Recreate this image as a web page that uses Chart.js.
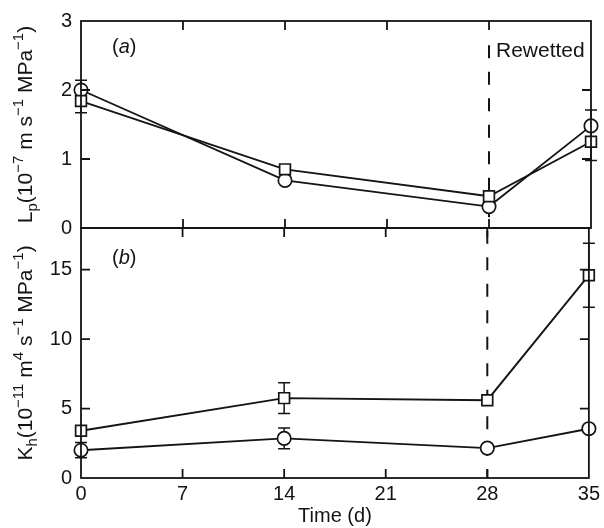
<!DOCTYPE html>
<html><head><meta charset="utf-8">
<script src="https://cdn.jsdelivr.net/npm/chart.js@4.4.1/dist/chart.umd.min.js"></script>
<style>
html,body{margin:0;padding:0;background:#fff;}
#wrap{position:relative;width:604px;height:528px;background:#fff;}
canvas{position:absolute;left:0;top:0;}
</style></head><body>
<div id="wrap"><canvas id="ca" width="604" height="528"></canvas><canvas id="cb" width="604" height="528"></canvas></div>
<script>
// ---- data ----
const days = [0, 14, 28, 35];
const xTicks = [0, 7, 14, 21, 28, 35];
const lpTicks = [0, 1, 2, 3];
const khTicks = [0, 5, 10, 15];
const lpCircle = [2.0, 0.69, 0.31, 1.48];
const lpCircleErr = [0.14, 0, 0, 0.23];
const lpSquare = [1.84, 0.85, 0.46, 1.25];
const lpSquareErr = [0.17, 0, 0, 0.27];
const khSquare = [3.4, 5.75, 5.6, 14.6];
const khSquareErr = [0, 1.1, 0, 2.3];
const khCircle = [2.0, 2.85, 2.15, 3.55];
const khCircleErr = [0.55, 0.75, 0, 0];
const rewetDay = 28;
const rewetTop = 2.65;
const rewetLabel = 'Rewetted';
const xTitle = 'Time (d)';
const lpTitle = [{t:'L'},{t:'p',k:'sub'},{t:'(10'},{t:'\u22127',k:'sup'},{t:' m s'},{t:'\u22121',k:'sup'},{t:' MPa'},{t:'\u22121',k:'sup'},{t:')'}];
const khTitle = [{t:'K'},{t:'h',k:'sub'},{t:'(10'},{t:'\u221211',k:'sup'},{t:' m'},{t:'4',k:'sup'},{t:' s'},{t:'\u22121',k:'sup'},{t:' MPa'},{t:'\u22121',k:'sup'},{t:')'}];

const FAM = '"Liberation Sans", Arial, Helvetica, sans-serif';
const INK = '#141414';
Chart.defaults.font.family = FAM;
Chart.defaults.color = INK;

let chartA = null;

function pts(ys){ return days.map((d,i)=>({x:d,y:ys[i]})); }
function ds(ys, errs, style, radius){
  return {data: pts(ys), errs: errs, borderColor: INK, borderWidth: 1.9, tension: 0,
    pointStyle: style, pointRadius: radius, pointBackgroundColor: '#fff',
    pointBorderColor: INK, pointBorderWidth: 1.7, clip: false, fill: false};
}

function drawRich(ctx, segs, cx, cy, size){
  const fN = size + 'px ' + FAM, fS = Math.round(size*0.7) + 'px ' + FAM;
  let w = 0;
  for (const s of segs){ ctx.font = s.k ? fS : fN; w += ctx.measureText(s.t).width; }
  ctx.save(); ctx.translate(cx, cy); ctx.rotate(-Math.PI/2);
  ctx.fillStyle = INK; ctx.textBaseline = 'alphabetic'; ctx.textAlign = 'left';
  let x = -w/2;
  for (const s of segs){
    ctx.font = s.k ? fS : fN;
    const dy = s.k === 'sup' ? -size*0.42 : (s.k === 'sub' ? size*0.22 : 0);
    ctx.fillText(s.t, x, dy);
    x += ctx.measureText(s.t).width;
  }
  ctx.restore();
}

function dashStart(){ return chartA.scales.y.getPixelForValue(rewetTop); }

const framePlugin = {
  id: 'frame',
  beforeDatasetsDraw(chart, args, o){
    const ctx = chart.ctx, x = chart.scales.x, y = chart.scales.y;
    ctx.save(); ctx.strokeStyle = INK; ctx.lineWidth = 1.5;
    chart.data.datasets.forEach(d => {
      d.data.forEach((p, i) => {
        const e = d.errs[i]; if (!e) return;
        const px = x.getPixelForValue(p.x), y1 = y.getPixelForValue(p.y - e), y2 = y.getPixelForValue(p.y + e);
        ctx.beginPath(); ctx.moveTo(px, y1); ctx.lineTo(px, y2);
        ctx.moveTo(px-6, y1); ctx.lineTo(px+6, y1); ctx.moveTo(px-6, y2); ctx.lineTo(px+6, y2); ctx.stroke();
      });
    });
    // dashed rewet line
    const px = x.getPixelForValue(rewetDay);
    const yStart = o.rewet ? y.getPixelForValue(rewetTop) : dashStart();
    const y0 = Math.max(yStart, chart.chartArea.top);
    ctx.setLineDash([13, 13.5]); ctx.lineDashOffset = y0 - yStart; ctx.lineWidth = 2;
    ctx.beginPath(); ctx.moveTo(px, y0); ctx.lineTo(px, chart.chartArea.bottom); ctx.stroke();
    ctx.restore();
  },
  afterDraw(chart, args, o){
    const ctx = chart.ctx, x = chart.scales.x, y = chart.scales.y;
    const {left, right, top, bottom} = chart.chartArea;
    ctx.save(); ctx.strokeStyle = INK; ctx.lineWidth = 1.8;
    ctx.strokeRect(left, top, right-left, bottom-top);
    const L = 9;
    ctx.beginPath();
    xTicks.forEach(v => { if (v <= x.min || v >= x.max) return; const p = x.getPixelForValue(v);
      ctx.moveTo(p, top); ctx.lineTo(p, top+L); ctx.moveTo(p, bottom); ctx.lineTo(p, bottom-L); });
    o.yTicks.forEach(v => { if (v <= y.min || v >= y.max) return; const p = y.getPixelForValue(v);
      ctx.moveTo(left, p); ctx.lineTo(left+L, p); ctx.moveTo(right, p); ctx.lineTo(right-L, p); });
    ctx.stroke();
    // panel label
    ctx.fillStyle = INK; ctx.textBaseline = 'alphabetic'; ctx.textAlign = 'left';
    let tx = left + 31; const ty = top + o.labelDy;
    ctx.font = '20px ' + FAM; ctx.fillText('(', tx, ty); tx += ctx.measureText('(').width;
    ctx.font = 'italic 20px ' + FAM; ctx.fillText(o.letter, tx, ty); tx += ctx.measureText(o.letter).width;
    ctx.font = '20px ' + FAM; ctx.fillText(')', tx, ty);
    drawRich(ctx, o.title, 32, (top+bottom)/2, 21);
    if (o.rewet){
      ctx.font = '21px ' + FAM;
      ctx.fillText(rewetLabel, x.getPixelForValue(rewetDay) + 7, y.getPixelForValue(rewetTop) + 12);
    }
    ctx.restore();
  }
};

const tickFont = {size: 20, family: FAM};
function yScale(max, ticks){
  return {min: 0, max: max, afterFit: s => { s.width = 69; },
    afterBuildTicks: s => { s.ticks = ticks.map(v => ({value: v})); },
    grid: {display: false, drawTicks: false}, border: {display: false},
    ticks: {padding: 9, font: tickFont, color: INK}};
}

chartA = new Chart(document.getElementById('ca'), {
  type: 'line',
  data: {datasets: [ds(lpSquare, lpSquareErr, 'rect', 7.6), ds(lpCircle, lpCircleErr, 'circle', 6.7)]},
  options: {responsive: false, animation: false, devicePixelRatio: 1, events: [],
    layout: {padding: {left: 12, right: 13, top: 21, bottom: 300}},
    plugins: {legend: {display: false}, tooltip: {enabled: false},
      frame: {yTicks: lpTicks, letter: 'a', labelDy: 32, title: lpTitle, rewet: true}},
    scales: {x: {type: 'linear', min: 0, max: 35, display: false}, y: yScale(3, lpTicks)}},
  plugins: [framePlugin]
});

const chartB = new Chart(document.getElementById('cb'), {
  type: 'line',
  data: {datasets: [ds(khSquare, khSquareErr, 'rect', 7.6), ds(khCircle, khCircleErr, 'circle', 6.7)]},
  options: {responsive: false, animation: false, devicePixelRatio: 1, events: [],
    layout: {padding: {left: 12, right: 13, top: 228, bottom: 0}},
    plugins: {legend: {display: false}, tooltip: {enabled: false},
      frame: {yTicks: khTicks, letter: 'b', labelDy: 36, title: khTitle, rewet: false}},
    scales: {
      x: {type: 'linear', min: 0, max: 35, afterFit: s => { s.height = 50; },
        afterBuildTicks: s => { s.ticks = xTicks.map(v => ({value: v})); },
        grid: {display: false, drawTicks: false}, border: {display: false},
        ticks: {padding: 4, font: tickFont, color: INK, maxRotation: 0, autoSkip: false},
        title: {display: true, text: xTitle, font: {size: 20, family: FAM}, color: INK, padding: 0}},
      y: yScale(18, khTicks)}},
  plugins: [framePlugin]
});
</script>
</body></html>
